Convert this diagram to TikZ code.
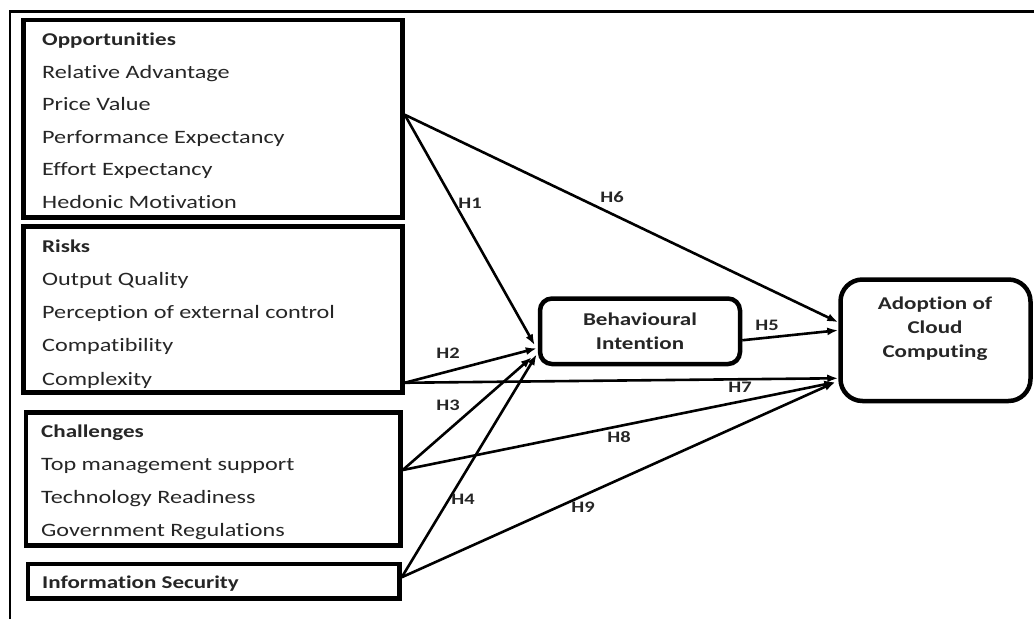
\documentclass[tikz,border=0pt]{standalone}
\usepackage{fontspec}
\setmainfont[FakeStretch=1.28, Ligatures=NoCommon]{Carlito}
\usetikzlibrary{arrows.meta}

\begin{document}
\begin{tikzpicture}[x=1pt,y=-1pt,
  frame/.style={line width=2.5pt},
  groupbox/.style={draw=black, line width=4.5pt, inner sep=0pt},
  roundbox/.style={draw=black, line width=4.5pt, inner sep=0pt},
  item/.style={anchor=base west, inner sep=0pt, text=black!85,
    font=\fontsize{18.9}{22}\selectfont},
  heading/.style={item, font=\bfseries\fontsize{18}{22}\selectfont},
  title/.style={inner sep=0pt, align=center, text=black!85,
    font=\bfseries\fontsize{18}{24}\selectfont},
  link/.style={line width=2.6pt, -{Latex[length=11pt,width=8pt]}},
  hyp/.style={inner sep=0pt, text=black!85,
    font=\bfseries\fontsize{16}{18}\selectfont}]

\useasboundingbox (0,0) rectangle (1034,619);
\fill[white] (0,0) rectangle (1034,619);

% outer frame (left and top edges only)
\draw[frame] (10,619) -- (10,11.3) -- (1034,11.3);

% ---- construct groups ----
\node[groupbox, minimum width=379pt, minimum height=197.5pt] (opp) at (213,118.75) {};
\node[heading] (oppH) at (42,45.5) {Opportunities};
\node[item] (opp1) at (42,78.1) {Relative Advantage};
\node[item] (opp2) at (42,110.7) {Price Value};
\node[item] (opp3) at (42,143.3) {Performance Expectancy};
\node[item] (opp4) at (42,175.9) {Effort Expectancy};
\node[item] (opp5) at (42,208.5) {Hedonic Motivation};

\node[groupbox, minimum width=379pt, minimum height=166pt] (risk) at (213,309.5) {};
\node[heading] (riskH) at (42,252) {Risks};
\node[item] (risk1) at (42,285.5) {Output Quality};
\node[item] (risk2) at (42,318.5) {Perception of external control};
\node[item] (risk3) at (42,351.5) {Compatibility};
\node[item] (risk4) at (42,385) {Complexity};

\node[groupbox, minimum width=374.7pt, minimum height=133pt] (chal) at (213.15,479) {};
\node[heading] (chalH) at (41,437.7) {Challenges};
\node[item] (chal1) at (41,470) {Top management support};
\node[item] (chal2) at (41,503) {Technology Readiness};
\node[item] (chal3) at (41,536.5) {Government Regulations};

\node[groupbox, minimum width=371.5pt, minimum height=34.5pt] (info) at (213.75,581.25) {};
\node[heading] (infoH) at (42,588) {Information Security};

% ---- outcome constructs ----
\node[roundbox, rounded corners=12pt, minimum width=200pt, minimum height=65.5pt,
  title] (bi) at (640,331.25) {Behavioural\\Intention};

\node[roundbox, rounded corners=22pt, minimum width=190pt, minimum height=121.5pt]
  (adopt) at (935.5,340.25) {};
\node[title, anchor=north] (adoptT) at (935,296.5) {Adoption of\\Cloud\\Computing};

% ---- hypothesised paths ----
\draw[link] ([yshift=4pt]opp.east) -- ([xshift=-3pt,yshift=-14pt]bi.west);
\draw[link] ([yshift=4pt]opp.east) -- ([yshift=18pt]adopt.west);
\draw[link] ([yshift=12pt]risk.south east) -- ([xshift=-1pt,yshift=-17pt]bi.west);
\draw[link] ([yshift=12pt]risk.south east) -- ([yshift=-38pt]adopt.west);
\draw[link] ([yshift=9pt]chal.east) -- ([xshift=-6pt,yshift=-26pt]bi.west);
\draw[link] ([yshift=9pt]chal.east) -- ([xshift=-3pt,yshift=-42pt]adopt.west);
\draw[link] ([yshift=4pt]info.east) -- ([xshift=-1pt,yshift=-23pt]bi.west);
\draw[link] ([yshift=4pt]info.east) -- ([xshift=-3pt,yshift=-42pt]adopt.west);
\draw[link] ([yshift=-9pt]bi.east) -- ([yshift=10pt]adopt.west);

% ---- path labels ----
\node[hyp] (h1) at (470,203) {H1};
\node[hyp] (h6) at (612,197.5) {H6};
\node[hyp] (h2) at (448,353) {H2};
\node[hyp] (h5) at (767,325) {H5};
\node[hyp] (h7) at (740,387) {H7};
\node[hyp] (h3) at (448,405) {H3};
\node[hyp] (h8) at (619,437) {H8};
\node[hyp] (h4) at (463,499) {H4};
\node[hyp] (h9) at (583,507) {H9};
\end{tikzpicture}
\end{document}
